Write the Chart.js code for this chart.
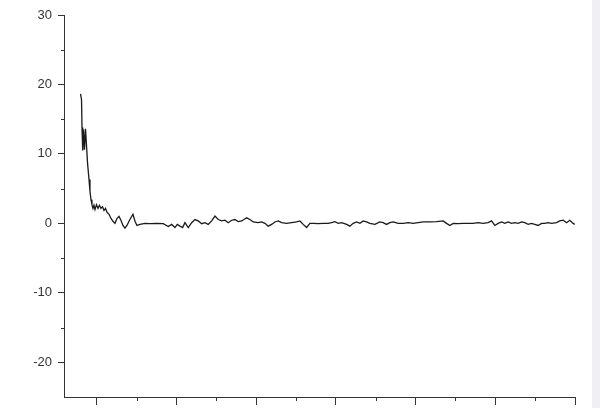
<!DOCTYPE html>
<html>
<head>
<meta charset="utf-8">
<script src="https://cdn.jsdelivr.net/npm/chart.js@4/dist/chart.umd.min.js"></script>
<style>
  html, body { margin: 0; padding: 0; }
  body { width: 600px; height: 408px; background: linear-gradient(to right, #ffffff 592px, #f0eff4 592px); }
  #wrap { position: relative; width: 600px; height: 408px; }
</style>
</head>
<body>
<div id="wrap"><canvas id="c"></canvas></div>
<script>
// x positions (axis units; major ticks at 0..6, labels not shown in the reference)
const xValues = [
  -0.207, -0.194, -0.188, -0.179, -0.169, -0.157, -0.144, -0.132, -0.119, -0.100,
  -0.088, -0.075, -0.063, -0.050, -0.038, -0.025, -0.006, 0.013, 0.031, 0.050,
  0.069, 0.088, 0.107, 0.125, 0.151, 0.176, 0.201, 0.226, 0.251, 0.276,
  0.301, 0.326, 0.351, 0.376, 0.402, 0.427, 0.452, 0.477, 0.502, 0.540,
  0.602, 0.665, 0.749, 0.832, 0.895, 0.937, 0.979, 1.008, 1.041, 1.075,
  1.104, 1.146, 1.188, 1.230, 1.271, 1.314, 1.355, 1.396, 1.439, 1.481,
  1.522, 1.565, 1.606, 1.647, 1.690, 1.731, 1.773, 1.816, 1.878, 1.920,
  1.961, 2.024, 2.066, 2.108, 2.149, 2.192, 2.233, 2.275, 2.318, 2.380,
  2.443, 2.506, 2.547, 2.588, 2.631, 2.673, 2.714, 2.777, 2.839, 2.902,
  2.945, 2.986, 3.028, 3.070, 3.133, 3.174, 3.216, 3.258, 3.300, 3.341,
  3.384, 3.425, 3.488, 3.551, 3.592, 3.635, 3.676, 3.718, 3.780, 3.843,
  3.906, 3.969, 4.031, 4.094, 4.178, 4.262, 4.345, 4.388, 4.429, 4.471,
  4.533, 4.596, 4.659, 4.721, 4.784, 4.847, 4.910, 4.952, 4.994, 5.035,
  5.078, 5.119, 5.161, 5.203, 5.245, 5.286, 5.329, 5.370, 5.412, 5.454,
  5.496, 5.537, 5.580, 5.621, 5.663, 5.705, 5.768, 5.809, 5.851, 5.894,
  5.935, 5.977, 5.997
];
// signal values
const yValues = [
  18.65, 17.8, 13.8, 10.5, 13.5, 10.6, 13.6, 11.3, 8.75, 6.3,
  4.6, 3.4, 2.7, 2.15, 2.6, 2.0, 2.7, 2.15, 2.6, 2.15,
  2.4, 1.85, 2.15, 1.6, 1.3, 0.7, 0.3, 0.0, 0.7, 1.0,
  0.45, -0.3, -0.7, -0.3, 0.3, 0.85, 1.3, 0.3, -0.3, -0.15,
  0.0, -0.05, 0.0, -0.05, -0.45, -0.15, -0.6, -0.15, -0.4, -0.6,
  0.1, -0.6, 0.1, 0.55, 0.35, -0.05, 0.1, -0.15, 0.35, 1.05,
  0.55, 0.35, 0.45, 0.1, 0.45, 0.55, 0.25, 0.35, 0.8, 0.55,
  0.2, 0.1, 0.2, 0.0, -0.4, -0.15, 0.2, 0.35, 0.1, 0.0,
  0.1, 0.2, 0.35, -0.15, -0.6, 0.0, 0.0, -0.05, 0.0, 0.0,
  0.1, 0.25, 0.0, 0.1, -0.15, -0.4, 0.0, 0.2, 0.0, 0.35,
  0.2, 0.0, -0.15, 0.2, 0.1, -0.15, 0.1, 0.2, 0.0, 0.0,
  0.1, 0.0, 0.1, 0.2, 0.2, 0.25, 0.35, 0.0, -0.3, 0.0,
  -0.05, 0.0, 0.0, 0.0, 0.1, 0.0, 0.1, 0.35, -0.3, 0.0,
  0.2, 0.0, 0.2, 0.0, 0.1, 0.0, 0.2, 0.1, -0.15, 0.0,
  -0.15, -0.3, 0.0, 0.0, 0.1, 0.0, 0.1, 0.35, 0.45, 0.1,
  0.45, 0.0, -0.15
];
const yMajorTicks = [-20, -10, 0, 10, 20, 30];
const yMinorTicks = [-15, -5, 5, 15, 25];
const xMajorTicks = [0, 1, 2, 3, 4, 5, 6];
const xMinorTicks = [0.5, 1.5, 2.5, 3.5, 4.5, 5.5];

const axisColor = '#333333';

const minorTicksPlugin = {
  id: 'minorTicks',
  afterDraw(chart) {
    const ctx = chart.ctx;
    const xs = chart.scales.x, ys = chart.scales.y;
    ctx.save();
    ctx.strokeStyle = axisColor;
    ctx.lineWidth = 1;
    ctx.beginPath();
    yMinorTicks.forEach(v => {
      const py = Math.round(ys.getPixelForValue(v)) + 0.5;
      ctx.moveTo(xs.left - 3, py);
      ctx.lineTo(xs.left, py);
    });
    xMinorTicks.forEach(v => {
      const px = Math.round(xs.getPixelForValue(v)) + 0.5;
      ctx.moveTo(px, ys.bottom);
      ctx.lineTo(px, ys.bottom + 4);
    });
    ctx.stroke();
    ctx.restore();
  }
};

new Chart(document.getElementById('c'), {
  type: 'line',
  data: {
    datasets: [{
      data: xValues.map((x, i) => ({ x: x, y: yValues[i] })),
      borderColor: '#1a1a1a',
      borderWidth: 1.3,
      pointRadius: 0,
      tension: 0,
      fill: false
    }]
  },
  options: {
    responsive: true,
    maintainAspectRatio: false,
    animation: false,
    layout: { padding: { top: 15, right: 25, left: 0, bottom: 0 } },
    plugins: { legend: { display: false }, tooltip: { enabled: false } },
    scales: {
      x: {
        type: 'linear',
        min: -0.414,
        max: 6,
        afterBuildTicks(s) { s.ticks = xMajorTicks.map(v => ({ value: v })); },
        afterFit(s) { s.height = 11; s.paddingLeft = 0; s.paddingRight = 0; },
        ticks: { display: false },
        grid: { drawOnChartArea: false, drawTicks: true, tickLength: 8, color: axisColor },
        border: { display: true, color: axisColor, width: 1 }
      },
      y: {
        type: 'linear',
        min: -25,
        max: 30,
        afterBuildTicks(s) { s.ticks = yMajorTicks.map(v => ({ value: v })); },
        afterFit(s) { s.width = 64; s.paddingTop = 0; s.paddingBottom = 0; },
        ticks: {
          color: '#333333',
          padding: 6,
          font: { family: '"Liberation Sans", Arial, sans-serif', size: 13 }
        },
        grid: { drawOnChartArea: false, drawTicks: true, tickLength: 6, color: axisColor },
        border: { display: true, color: axisColor, width: 1 }
      }
    }
  },
  plugins: [minorTicksPlugin]
});
</script>
</body>
</html>
